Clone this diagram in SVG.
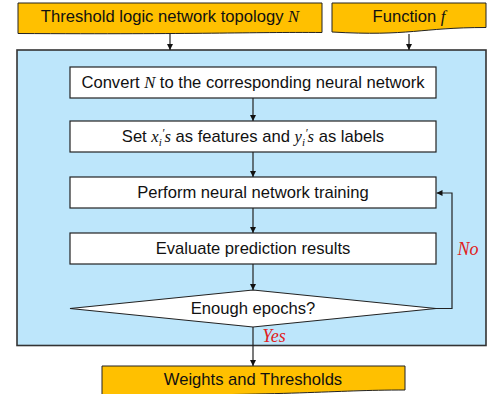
<svg xmlns="http://www.w3.org/2000/svg" width="487" height="394" viewBox="0 0 487 394">
<style>
.t{font-family:"Liberation Sans",Arial,sans-serif;font-size:16.6px;fill:#111;text-anchor:middle}
.m{font-family:"Liberation Serif","DejaVu Serif",serif;font-style:italic}
.r{font-family:"Liberation Serif","DejaVu Serif",serif;font-style:italic;font-size:18px;fill:#e02020;text-anchor:middle}
.doc{fill:#FFC000;stroke:#222;stroke-width:1}
.box{fill:#fff;stroke:#222;stroke-width:1.2}
.ln{fill:none;stroke:#222;stroke-width:1.2}
</style>
<defs>
<marker id="ah" viewBox="0 0 10 10" refX="10" refY="5" markerWidth="5" markerHeight="5" orient="auto"><path d="M0,0 L10,5 L0,10 Z" fill="#111"/></marker>
</defs>
<g id="container"><rect x="17" y="50" width="469" height="295.5" fill="#BDE6FB" stroke="#333" stroke-width="1.6"/></g>
<g id="topology">
<path class="doc" d="M18,3 H322 V32.5 C250,32 200,34.5 18,33.5 Z"/>
<text class="t" x="170" y="22">Threshold logic network topology <tspan class="m">N</tspan></text>
</g>
<g id="function">
<path class="doc" d="M332,3 H486 V27.5 C420,27.5 410,36.5 332,32 Z"/>
<text class="t" x="409" y="22">Function <tspan class="m">f</tspan></text>
</g>
<g id="convert">
<rect class="box" x="70" y="67" width="366" height="31"/>
<text class="t" x="253" y="88">Convert <tspan class="m">N</tspan> to the corresponding neural network</text>
</g>
<g id="set">
<rect class="box" x="70" y="121" width="366" height="31"/>
<text class="t" x="253" y="142">Set <tspan class="m">x</tspan><tspan class="m" font-size="11" dy="4">i</tspan><tspan class="m" font-size="12" dy="-9">′</tspan><tspan class="m" dy="5">s</tspan> as features and <tspan class="m">y</tspan><tspan class="m" font-size="11" dy="4">i</tspan><tspan class="m" font-size="12" dy="-9">′</tspan><tspan class="m" dy="5">s</tspan> as labels</text>
</g>
<g id="train">
<rect class="box" x="70" y="177" width="366" height="31"/>
<text class="t" x="253" y="198">Perform neural network training</text>
</g>
<g id="evaluate">
<rect class="box" x="70" y="233" width="366" height="31"/>
<text class="t" x="253" y="254">Evaluate prediction results</text>
</g>
<g id="decision">
<path class="box" d="M70,308.5 L253,290 L436,308.5 L253,327 Z"/>
<text class="t" x="253" y="314">Enough epochs?</text>
</g>
<g id="result">
<path class="doc" d="M102,366 H405 V390 C330,390 300,396 102,395 Z"/>
<text class="t" x="253" y="385">Weights and Thresholds</text>
</g>
<g id="connectors">
<line class="ln" x1="170" y1="33.5" x2="170" y2="50" marker-end="url(#ah)"/>
<line class="ln" x1="409" y1="34" x2="409" y2="50" marker-end="url(#ah)"/>
<line class="ln" x1="253" y1="98" x2="253" y2="121" marker-end="url(#ah)"/>
<line class="ln" x1="253" y1="152" x2="253" y2="177" marker-end="url(#ah)"/>
<line class="ln" x1="253" y1="208" x2="253" y2="233" marker-end="url(#ah)"/>
<line class="ln" x1="253" y1="264" x2="253" y2="290" marker-end="url(#ah)"/>
<line class="ln" x1="253" y1="327" x2="253" y2="366" marker-end="url(#ah)"/>
<polyline class="ln" points="436,308.5 452,308.5 452,193 436.5,193" marker-end="url(#ah)"/>
<text class="r" x="468" y="255">No</text>
<text class="r" x="274" y="342">Yes</text>
</g>
</svg>
